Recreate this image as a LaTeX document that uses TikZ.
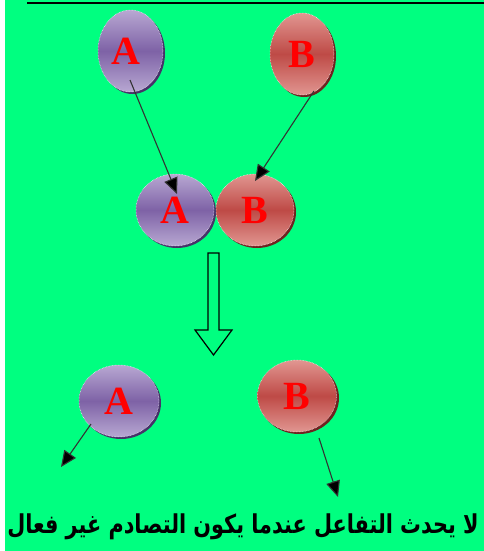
\documentclass[tikz,border=0pt]{standalone}
\usepackage{fontspec}
\setmainfont{Liberation Serif}
\newfontfamily\arabicfont[Script=Arabic]{DejaVu Sans}
\TeXXeTstate=1
\usetikzlibrary{arrows.meta,shapes.geometric}
\definecolor{bggreen}{RGB}{0,255,128}
\definecolor{plight}{RGB}{184,168,210}
\definecolor{pmid}{RGB}{126,98,166}
\definecolor{pdark}{RGB}{70,50,105}
\definecolor{rlight}{RGB}{225,150,145}
\definecolor{rmid}{RGB}{190,74,70}
\definecolor{rdark}{RGB}{110,35,32}
\tikzset{
  x=1pt,y=-1pt,
  balla/.style={ellipse, minimum width=#1, top color=plight, bottom color=plight, middle color=pmid, draw=white, densely dotted, line width=0.5pt, inner sep=0pt},
  ballb/.style={ellipse, minimum width=#1, top color=rlight, bottom color=rlight, middle color=rmid, draw=white, densely dotted, line width=0.5pt, inner sep=0pt},
  lbl/.style={text=red, font=\fontsize{40}{40}\selectfont\bfseries},
  conn/.style={draw=black!80, line width=1.1pt, -{Triangle[length=16pt,width=14pt,fill=black]}},
}
\begin{document}
\begin{tikzpicture}
\useasboundingbox (0,0) rectangle (484,551);
\fill[white] (0,0) rectangle (484,551);
\fill[bggreen] (5,0) rectangle (484,551);
\draw[line width=2pt] (27,3.5) -- (484,3.5);
% shadows
\fill[pdark] (132.5,53) ellipse [x radius=32.5, y radius=41];
\fill[rdark] (304,56) ellipse [x radius=32, y radius=41];
\fill[pdark] (177,212) ellipse [x radius=39, y radius=36];
\fill[rdark] (257,212) ellipse [x radius=39, y radius=36];
\fill[pdark] (121,403) ellipse [x radius=40, y radius=36];
\fill[rdark] (299,398) ellipse [x radius=40, y radius=36];
% balls
\node[balla=65pt, minimum height=82pt] (a1) at (130.5,51) {};
\node[ballb=64pt, minimum height=82pt] (b1) at (302,54) {};
\node[balla=78pt, minimum height=72pt] (a2) at (175,210) {};
\node[ballb=78pt, minimum height=72pt] (b2) at (255,210) {};
\node[balla=80pt, minimum height=72pt] (a3) at (119,401) {};
\node[ballb=79pt, minimum height=72pt] (b3) at (297,396) {};
\node[lbl] at ([xshift=-5pt]a1.center) {A};
\node[lbl] at (b1) {B};
\node[lbl] at (a2) {A};
\node[lbl] at (b2) {B};
\node[lbl] at (a3) {A};
\node[lbl] at (b3) {B};
% connectors
\coordinate (a1s) at (130,80);
\coordinate (a2t) at (177,194);
\coordinate (b1s) at (314,91);
\coordinate (b2t) at (255,181);
\coordinate (a3s) at (91,424);
\coordinate (a3t) at (61,467);
\coordinate (b3s) at (319,438);
\coordinate (b3t) at (338,497);
\draw[conn] (a1s) -- (a2t);
\draw[conn] (b1s) -- (b2t);
\draw[conn] (a3s) -- (a3t);
\draw[conn] (b3s) -- (b3t);
% hollow arrow
\draw[line width=1.2pt, fill=bggreen] (208,253) -- (219,253) -- (219,330) -- (232,330) -- (213.5,355) -- (195,330) -- (208,330) -- cycle;
% text
\node[font=\fontsize{20.8}{21}\selectfont\bfseries, anchor=base, yscale=1.25, inner sep=0pt] (txt) at (243,533) {\arabicfont\beginR لا يحدث التفاعل عندما يكون التصادم غير فعال\endR};
\end{tikzpicture}
\end{document}
